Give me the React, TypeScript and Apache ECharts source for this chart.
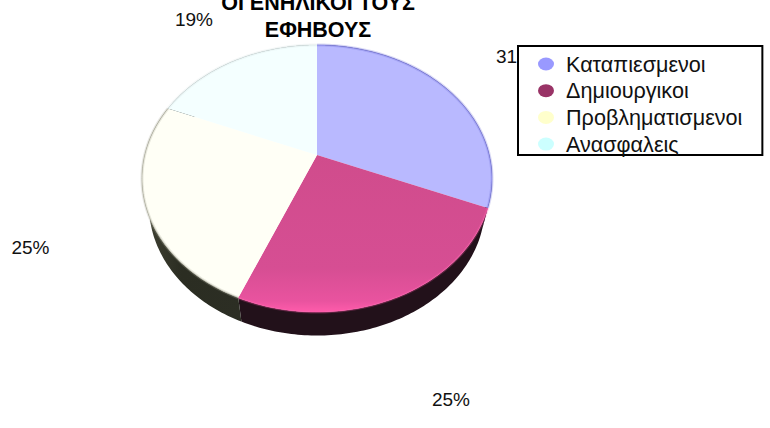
import React, { useEffect, useRef } from "react";
import * as echarts from "echarts";

const categories = ["Καταπιεσμενοι", "Δημιουργικοι", "Προβληματισμενοι", "Ανασφαλεις"];
const values = [5, 4, 4, 3];
const legendColors = ["#9999ff", "#993366", "#ffffcc", "#ccffff"];
const topColors = ["#b9b9ff", "#d24d8e", "#fffff6", "#f4ffff"];
const rimColors = ["#6f6fd8", "#ff5cab", "#a8a898", "#d8e4e4"];
const wallColors = ["#1c1c33", "#22111a", "#2b2d22", "#263030"];
const titleLines = "ΟΙ ΕΝΗΛΙΚΟΙ ΤΟΥΣ\nΕΦΗΒΟΥΣ";
// label anchors of the percentage texts, in pixels
const labelAnchors: number[][] = [[515, 56], [451, 399], [30.5, 247], [194, 19]];

// perspective disc geometry
const CX = 317, APEX_Y = 155, PERSP = -0.176, KX = 172.3, KY = 102.1;
const ELL_CY = 178.5, ELL_RY = 133.5, BOT_CY = 205.5, BOT_RY = 130, BOT_SX = 0.96;
const total = values.reduce((a, b) => a + b, 0);

function topPoint(theta: number): number[] {
  const s = Math.sin(theta), t = -Math.cos(theta);
  const d = 1 + PERSP * t;
  return [CX + (KX * s) / d, (KY * t + APEX_Y) / d];
}
function bottomPoint(theta: number): number[] {
  const p = topPoint(theta);
  return [CX + (p[0] - CX) * BOT_SX, BOT_CY + ((p[1] - ELL_CY) * BOT_RY) / ELL_RY];
}
function arc(a: number, b: number, fn: (t: number) => number[]): number[][] {
  const n = Math.max(8, Math.ceil((b - a) * 60));
  const out: number[][] = [];
  for (let i = 0; i <= n; i++) out.push(fn(a + ((b - a) * i) / n));
  return out;
}
const vGrad = (stops: [number, string][]) =>
  new echarts.graphic.LinearGradient(0, 0, 0, 1, stops.map(([offset, color]) => ({ offset, color })));
const hGrad = (stops: [number, string][]) =>
  new echarts.graphic.LinearGradient(0, 0, 1, 0, stops.map(([offset, color]) => ({ offset, color })));

function makeRender(index: number) {
  return (_params: any, api: any) => {
    const v = api.value(0) as number;
    const before = values.slice(0, index).reduce((a, b) => a + b, 0);
    const a = (before / total) * Math.PI * 2;
    const b = ((before + v) / total) * Math.PI * 2;
    const top = arc(a, b, topPoint);
    const bot = arc(a, b, bottomPoint);
    const wallFill =
      index === 2
        ? hGrad([[0, "#77786a"], [0.12, "#3a3c2e"], [0.4, wallColors[2]], [1, "#2c2e24"]])
        : wallColors[index];
    const topFill =
      index === 1
        ? vGrad([[0, "#d04c8c"], [0.72, "#d64e93"], [0.93, "#e9539f"], [1, "#ff5cab"]])
        : topColors[index];
    const children: any[] = [
      {
        type: "polygon",
        z2: 1,
        shape: { points: top.concat(bot.slice().reverse()) },
        style: { fill: wallFill },
      },
      {
        type: "polygon",
        z2: 5,
        shape: { points: [[CX, APEX_Y], ...top] },
        style: { fill: topFill },
      },
      {
        type: "polyline",
        z2: 6,
        shape: { points: top },
        style: { stroke: rimColors[index], lineWidth: 3, opacity: 0.25, fill: "none" },
      },
      {
        type: "polyline",
        z2: 6,
        shape: { points: top },
        style: { stroke: rimColors[index], lineWidth: 1, opacity: 0.6, fill: "none" },
      },
      {
        type: "text",
        z2: 7,
        x: labelAnchors[index][0],
        y: labelAnchors[index][1],
        style: {
          text: `${Math.round((v / total) * 100)}%`,
          fill: "#111",
          font: "19px 'Liberation Sans'",
          align: "center",
          verticalAlign: "middle",
        },
      },
    ];
    return { type: "group", children };
  };
}

export default function App() {
  const ref = useRef<HTMLDivElement>(null);
  useEffect(() => {
    document.body.style.margin = "0";
    const chart = echarts.init(ref.current!, null, { renderer: "svg" });
    chart.setOption({
      animation: false,
      backgroundColor: "#ffffff",
      title: {
        text: titleLines,
        left: 313,
        top: -15.5,
        textAlign: "center",
        textStyle: {
          fontFamily: "Liberation Sans",
          fontSize: 21.5,
          fontWeight: "bold",
          color: "#000",
          lineHeight: 27,
        },
      },
      legend: {
        data: categories,
        orient: "vertical",
        left: 518,
        top: 46,
        padding: [7, 20, 0, 20],
        itemWidth: 16,
        itemHeight: 13,
        itemGap: 4.7,
        icon: "path://M0 6.5A8 6.5 0 1 1 16 6.5A8 6.5 0 1 1 0 6.5Z",
        backgroundColor: "#ffffff",
        borderColor: "#000",
        borderWidth: 2,
        selectedMode: false,
        textStyle: {
          fontFamily: "Liberation Sans",
          fontSize: 21.6,
          color: "#111",
          padding: [0, 0, 0, 7],
          lineHeight: 20.5,
        },
      },
      series: categories.map((name, i) => ({
        type: "custom",
        name,
        coordinateSystem: "none",
        silent: true,
        clip: false,
        itemStyle: { color: legendColors[i] },
        data: [[values[i]]],
        renderItem: makeRender(i),
      })),
    });
    return () => chart.dispose();
  }, []);
  return <div ref={ref} style={{ width: 770, height: 428 }} />;
}
